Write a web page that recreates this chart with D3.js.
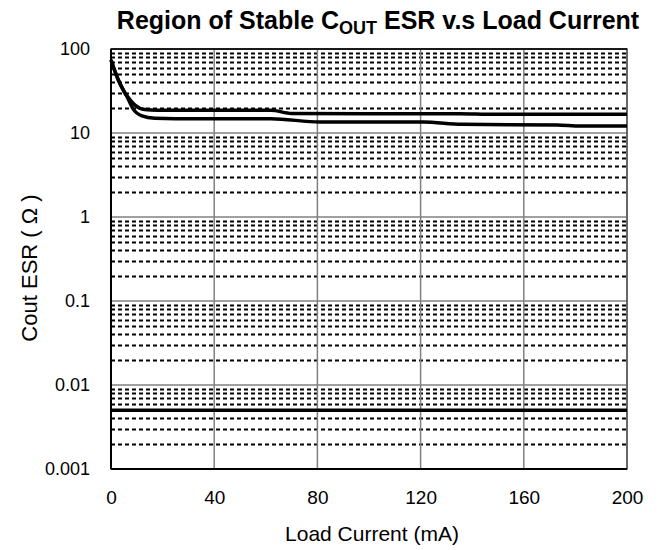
<!DOCTYPE html>
<html><head><meta charset="utf-8">
<script src="https://cdn.jsdelivr.net/npm/d3@7"></script>
<style>body{margin:0;background:#fff}svg{display:block}</style>
</head><body>
<script>
const xTicks = [0, 40, 80, 120, 160, 200];
const yTicks = [0.001, 0.01, 0.1, 1, 10, 100];
const yTickLabels = ["0.001", "0.01", "0.1", "1", "10", "100"];
const upperX = [0, 2.8, 5.4, 6.5, 9.3, 13, 18, 40, 62, 70, 100, 135, 148, 200];
const upperY = [74, 43, 30, 27, 21.5, 19, 18.6, 18.6, 18.6, 17.1, 17.0, 17.0, 16.7, 16.7];
const lowerX = [0, 2.8, 5.4, 6.5, 8.5, 12, 17, 25, 62, 81, 121, 136, 173, 182, 200];
const lowerY = [74, 43, 30, 26, 19.5, 16, 15, 14.8, 14.8, 13.5, 13.5, 12.7, 12.45, 12.1, 12.1];
const minX = [0, 200];
const minY = [0.005, 0.005];

const W = 658, H = 550;
const m = {l: 111, r: 31, t: 49, b: 81};
const FONT = "Arial, 'Liberation Sans', sans-serif";
const svg = d3.select("body").append("svg").attr("width", W).attr("height", H)
  .style("font-family", FONT);
const x = d3.scaleLinear().domain([0, 200]).range([m.l, W - m.r]);
const y = d3.scaleLog().domain([0.001, 100]).range([H - m.b, m.t]);

// minor gridlines
const minors = [];
for (let d = 0.001; d < 100; d *= 10) for (let k = 2; k <= 9; k++) minors.push(d * k);
svg.append("g").selectAll("line").data(minors).join("line")
  .attr("x1", x(0)).attr("x2", x(200))
  .attr("y1", d => Math.round(y(d)) + 0.5).attr("y2", d => Math.round(y(d)) + 0.5)
  .attr("stroke", "#000").attr("stroke-width", 2).attr("stroke-dasharray", "4,3");
// major horizontal
svg.append("g").selectAll("line").data(yTicks).join("line")
  .attr("x1", x(0)).attr("x2", x(200))
  .attr("y1", d => y(d)).attr("y2", d => y(d))
  .attr("stroke", "#808080").attr("stroke-width", 1.5);
// vertical
svg.append("g").selectAll("line").data(xTicks).join("line")
  .attr("x1", d => x(d)).attr("x2", d => x(d))
  .attr("y1", y(0.001)).attr("y2", y(100))
  .attr("stroke", "#808080").attr("stroke-width", 1.5);
// border
svg.append("rect").attr("x", x(0)).attr("y", y(100)).attr("width", x(200) - x(0)).attr("height", y(0.001) - y(100))
  .attr("fill", "none").attr("stroke", "#555").attr("stroke-width", 1.5);
svg.append("line").attr("x1", x(0)).attr("x2", x(0)).attr("y1", y(100)).attr("y2", y(0.001)).attr("stroke", "#000").attr("stroke-width", 2);
svg.append("line").attr("x1", x(0)).attr("x2", x(200)).attr("y1", y(0.001)).attr("y2", y(0.001)).attr("stroke", "#000").attr("stroke-width", 2);
svg.append("line").attr("x1", x(0)).attr("x2", x(200)).attr("y1", y(100)).attr("y2", y(100)).attr("stroke", "#000").attr("stroke-width", 1.5);

const line = d3.line().x(d => x(d[0])).y(d => y(d[1])).curve(d3.curveMonotoneX);
const series = [d3.zip(upperX, upperY), d3.zip(lowerX, lowerY), d3.zip(minX, minY)];
svg.append("g").selectAll("path").data(series).join("path")
  .attr("d", line).attr("fill", "none").attr("stroke", "#000").attr("stroke-width", 3.5);

// axes labels
const xAxis = d3.axisBottom(x).tickValues(xTicks).tickSize(0).tickPadding(22);
const gx = svg.append("g").attr("transform", `translate(0,${y(0.001)})`).call(xAxis);
gx.select(".domain").remove();
gx.selectAll("text").attr("font-size", 19).attr("fill", "#000").attr("font-family", FONT);
const yAxis = d3.axisLeft(y).tickValues(yTicks).tickFormat((d, i) => yTickLabels[i]).tickSize(0).tickPadding(21);
const gy = svg.append("g").attr("transform", `translate(${x(0)},0)`).call(yAxis);
gy.select(".domain").remove();
gy.selectAll("text").attr("font-size", 18).attr("fill", "#000").attr("font-family", FONT);

svg.append("text").attr("x", 372).attr("y", 541).attr("text-anchor", "middle")
  .attr("font-size", 21).text("Load Current (mA)");
svg.append("text").attr("transform", "translate(37,268) rotate(-90)").attr("text-anchor", "middle")
  .attr("font-size", 22).text("Cout ESR ( Ω )");
const t = svg.append("text").attr("x", 378).attr("y", 29).attr("text-anchor", "middle")
  .attr("font-size", 25).attr("font-weight", "bold");
t.append("tspan").text("Region of Stable C");
t.append("tspan").attr("font-size", 18).attr("dy", 5).text("OUT");
t.append("tspan").attr("dy", -5).text(" ESR v.s Load Current");
</script>
</body></html>
